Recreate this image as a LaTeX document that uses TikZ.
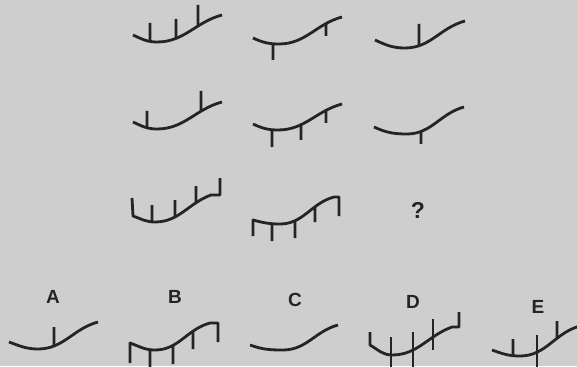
\documentclass[tikz,border=0pt]{standalone}
\usepackage{fontspec}
\setmainfont{Liberation Sans}
\usetikzlibrary{intersections}
\definecolor{bg}{RGB}{206,206,206}
\definecolor{ink}{RGB}{36,36,36}
\newcommand\atick[3]{%
  \path[name path=vtk] (#2,5) -- (#2,-375);
  \draw[ln, name intersections={of=#1 and vtk, by=tkp}] (tkp) -- (#2,#3);
}
\begin{document}
\begin{tikzpicture}[x=1pt,y=1pt,
  ln/.style={draw=ink, line width=2.8pt, line join=round},
  lbl/.style={text=ink, font=\fontsize{19}{19}\selectfont\bfseries, inner sep=0pt},
  qm/.style={text=ink, font=\fontsize{23}{23}\selectfont\bfseries, inner sep=0pt}]
\fill[bg] (0,0) rectangle (577,-366);
\useasboundingbox (0,0) rectangle (577,-366);
\clip (0,0) rectangle (577,-366);

% row 1
\draw[ln, name path=f1] (133,-35) to[out=-25,in=180] (157,-42) to[out=0,in=195] (222,-15);
\atick{f1}{150}{-23}
\atick{f1}{176}{-19}
\atick{f1}{198}{-5}

\draw[ln, name path=f2] (253,-38) to[out=-25,in=180] (279,-44) to[out=0,in=195] (342,-17);
\atick{f2}{273}{-60}
\atick{f2}{326}{-36}

\draw[ln, name path=f3] (375,-40) to[out=-25,in=180] (405,-48) to[out=0,in=195] (465,-21);
\atick{f3}{419}{-24}

% row 2
\draw[ln, name path=f4] (133,-122) to[out=-25,in=180] (157,-129) to[out=0,in=195] (222,-102);
\atick{f4}{147}{-111}
\atick{f4}{201}{-91}

\draw[ln, name path=f5] (253,-124) to[out=-25,in=180] (278,-130) to[out=0,in=195] (342,-104);
\atick{f5}{272}{-147}
\atick{f5}{301}{-140}
\atick{f5}{326}{-123}

\draw[ln, name path=f6] (374,-127) to[out=-25,in=180] (407,-134) to[out=0,in=195] (464,-107);
\atick{f6}{421}{-144}

% row 3
\draw[ln, name path=f7] (132,-198) -- (133,-216) to[out=-20,in=180] (155,-222) to[out=0,in=200] (211,-195) -- (220,-195) -- (220,-178);
\atick{f7}{152}{-205}
\atick{f7}{175}{-200}
\atick{f7}{196}{-186}

\draw[ln, name path=f8] (253,-236) -- (253,-220) to[out=-15,in=180] (280,-224) to[out=0,in=195] (334,-197) -- (339,-197) -- (339,-216);
\atick{f8}{272}{-241}
\atick{f8}{295}{-238}
\atick{f8}{315}{-222}

\node[qm] (q) at (418,-210) {?};

% answers
\node[lbl] (lA) at (53,-297) {A};
\node[lbl] (lB) at (175,-297) {B};
\node[lbl] (lC) at (295,-300) {C};
\node[lbl] (lD) at (413,-302) {D};
\node[lbl] (lE) at (538,-307) {E};

\draw[ln, name path=fa] (9,-342) to[out=-20,in=180] (38,-349) to[out=0,in=195] (98,-322);
\atick{fa}{54}{-327}

\draw[ln, name path=fb] (130,-363) -- (130,-343) to[out=-20,in=180] (155,-350) to[out=0,in=195] (210,-323) -- (218,-323) -- (218,-342);
\atick{fb}{150}{-368}
\atick{fb}{173}{-364}
\atick{fb}{193}{-349}

\draw[ln, name path=fc] (250,-345) to[out=-20,in=180] (283,-350) to[out=0,in=195] (338,-325);

\draw[ln, name path=fd] (370,-332) -- (370,-345) to[out=-30,in=180] (392,-355) to[out=0,in=200] (452,-327) -- (459,-327) -- (459,-312);
\draw[ln] (391,-337) -- (391,-368);
\draw[ln] (413,-332) -- (413,-368);
\draw[ln] (433,-319) -- (433,-350);

\draw[ln, name path=fe] (492,-350) to[out=-20,in=180] (520,-356) to[out=0,in=195] (580,-326);
\atick{fe}{513}{-339}
\draw[ln] (537,-335) -- (537,-368);
\atick{fe}{557}{-321}
\end{tikzpicture}
\end{document}
